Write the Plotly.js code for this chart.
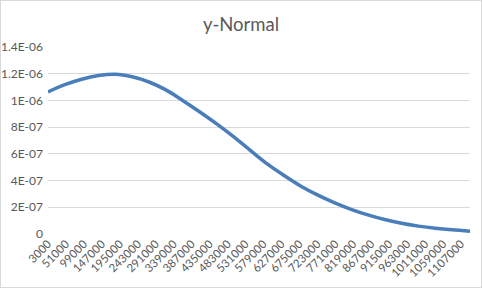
<!DOCTYPE html>
<html>
<head>
<meta charset="utf-8">
<script src="https://cdn.plot.ly/plotly-3.0.1.min.js"></script>
<style>
  html, body { margin: 0; padding: 0; background: #ffffff; }
  #wrap { position: relative; width: 482px; height: 288px; }
  #chart { width: 482px; height: 288px; }
  #border { position: absolute; left: 0; top: 0; width: 482px; height: 288px; box-sizing: border-box; border: 1px solid #d9d9d9; pointer-events: none; }
</style>
</head>
<body>
<div id="wrap"><div id="chart"></div><div id="border"></div></div>
<script>
// Values
const xValues = [3000, 48000, 93000, 138000, 183000, 228000, 273000, 318000, 363000, 408000,
                 453000, 498000, 543000, 588000, 633000, 678000, 723000, 768000, 813000, 858000,
                 903000, 948000, 993000, 1038000, 1083000, 1131000];
const yValues = [1.064e-6, 1.118e-6, 1.159e-6, 1.186e-6, 1.196e-6, 1.177e-6, 1.138e-6, 1.079e-6, 1.000e-6, 0.915e-6,
                 0.826e-6, 0.730e-6, 0.628e-6, 0.527e-6, 0.440e-6, 0.360e-6, 0.293e-6, 0.235e-6, 0.185e-6, 0.143e-6,
                 0.108e-6, 0.080e-6, 0.059e-6, 0.043e-6, 0.031e-6, 0.021e-6];
const xTickLabels = ["3000", "51000", "99000", "147000", "195000", "243000", "291000", "339000",
                     "387000", "435000", "483000", "531000", "579000", "627000", "675000", "723000",
                     "771000", "819000", "867000", "915000", "963000", "1011000", "1059000", "1107000"];
const yTickValues = [0, 2e-7, 4e-7, 6e-7, 8e-7, 1e-6, 1.2e-6, 1.4e-6];
const yTickLabels = ["0", "2E-07", "4E-07", "6E-07", "8E-07", "1E-06", "1.2E-06", "1.4E-06"];
const chartTitle = "y-Normal";

const font = "Lato, 'Open Sans', sans-serif";
const grey = "#595959";

const trace = {
  x: xValues,
  y: yValues,
  type: "scatter",
  mode: "lines",
  line: { color: "#4a7ebb", width: 3.5, shape: "spline", smoothing: 1 },
  hoverinfo: "skip"
};

const layout = {
  width: 482,
  height: 288,
  margin: { l: 48, r: 12, t: 47, b: 54, pad: 0 },
  paper_bgcolor: "#ffffff",
  plot_bgcolor: "#ffffff",
  showlegend: false,
  title: {
    text: chartTitle,
    font: { family: font, size: 18.5, color: grey },
    x: 0.5, xref: "container", xanchor: "center",
    y: 1 - 25 / 288, yref: "container", yanchor: "middle"
  },
  xaxis: {
    type: "linear",
    range: [xValues[0], xValues[xValues.length - 1]],
    tickmode: "array",
    tickvals: xTickLabels.map(Number),
    ticktext: xTickLabels,
    tickangle: -45,
    tickfont: { family: font, size: 11.5, color: grey },
    showgrid: false,
    zeroline: false,
    showline: false,
    ticks: "",
    fixedrange: true
  },
  yaxis: {
    range: [0, 1.4e-6],
    tickmode: "array",
    tickvals: yTickValues,
    ticktext: yTickLabels,
    tickfont: { family: font, size: 12, color: grey },
    showgrid: true,
    gridcolor: "#d9d9d9",
    gridwidth: 1,
    zeroline: false,
    showline: false,
    ticks: "",
    ticklabelstandoff: 4,
    fixedrange: true
  }
};

Plotly.newPlot("chart", [trace], layout, { staticPlot: true, displayModeBar: false });
</script>
</body>
</html>
